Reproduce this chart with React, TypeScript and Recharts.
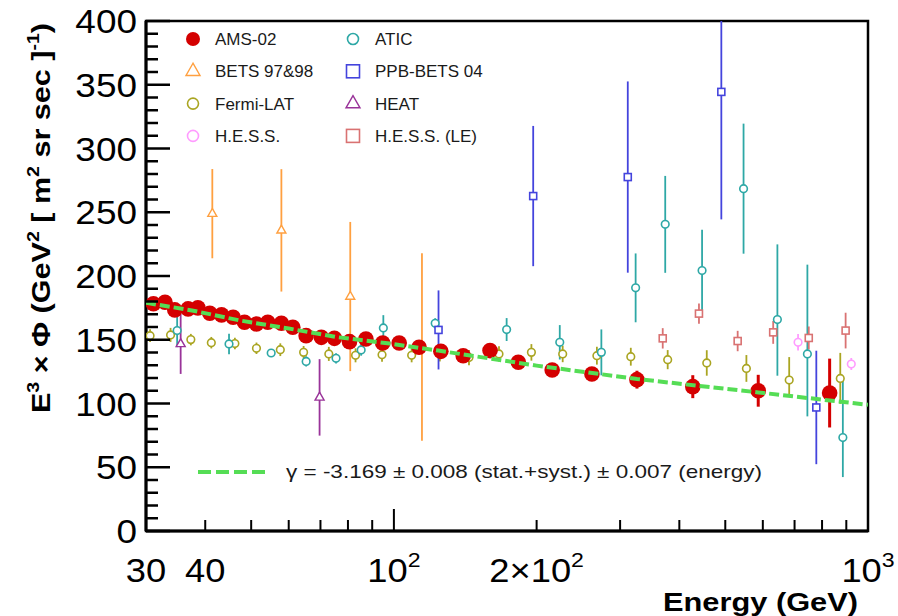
import React from 'react';
import { ComposedChart, Scatter, XAxis, YAxis, ErrorBar, ReferenceArea } from 'recharts';

const WIDTH = 898;
const HEIGHT = 616;
const FONT = '"Liberation Sans", Arial, Helvetica, sans-serif';

// rows: [energy (GeV), E^3 x flux, error]  (error may be [low, high])
type Row = [number, number, number | [number, number]];

const AMS02: Row[] = [
  [31.1, 178.2, 2], [32.9, 179.4, 2], [34.5, 173.4, 2], [36.8, 174.2, 2], [38.6, 175, 2],
  [40.9, 170.8, 2], [43.3, 169.5, 2], [45.8, 167.6, 2], [48.4, 163.7, 2], [51.3, 162.4, 2],
  [54.2, 163.7, 2], [57.9, 162.9, 2], [61.2, 159.8, 2], [65.3, 153.2, 2], [70.3, 151.9, 2],
  [74.9, 151.1, 2], [80.6, 148.5, 2.5], [87.3, 150.6, 2.5], [94.7, 147.5, 2.5], [102.6, 147.5, 2.5],
  [113, 144.1, 3], [125.6, 140.9, 3], [140, 137.5, 3], [159.5, 141.5, 3.5], [183, 132.3, 3.5],
  [215.7, 126.3, 4], [261.6, 123.1, 5.5], [325.6, 118.7, 7], [427, 113.2, 9], [586.8, 110, 12.5],
  [830, 108.2, 27],
];

const BETS_9798: Row[] = [
  [41.4, 248.9, 35], [57.9, 235.8, 48], [80.9, 183.9, 58.5], [114.6, 144.3, 73.6],
];

const FERMI_LAT: Row[] = [
  [30.6, 153.2, 5], [33.8, 153.8, 5.5], [37.3, 150.1, 4.5], [41.2, 147.7, 4.5], [46.2, 147, 4.5],
  [51.3, 143.3, 4.5], [57.6, 142.2, 5], [64.5, 140.1, 5], [72.9, 138.9, 5.5], [83, 137.8, 5.5],
  [94.4, 138.3, 5.5], [109, 137.8, 5.5], [125, 139, 6], [144, 136, 6], [166.6, 138.9, 6],
  [195, 140.1, 6.5], [227, 138.9, 6.5], [268, 137.5, 7], [316, 136.7, 7], [378, 134.4, 7.5],
  [457, 131.8, 10], [554, 127.5, 10.5], [682, 118.4, [13, 18]], [874, 119.7, 20],
];

const HESS: Row[] = [
  [712, 148, 6.5], [922, 131, 4.7],
];

const ATIC: Row[] = [
  [34.9, 157.2, 13], [44.9, 146.7, 8], [55.1, 139.6, 3], [65.3, 133, 4], [75.5, 135.4, 4],
  [85.3, 142, 4.5], [95, 159.3, 10], [122.2, 162.9, 4], [172.9, 158, 9], [223.8, 148, 13.5],
  [273.9, 140.1, 18], [323.5, 190.7, 27], [373.5, 240.5, 38], [446.7, 204.3, 32], [546.4, 268.5, 51],
  [644, 165.8, [44, 59]], [745, 138.9, [49, 70]], [885, 73.3, [31, 47]],
];

// the upper bar of the 490 GeV point runs off the top of the frame
const PPB_BETS: Row[] = [
  [124.2, 157.7, 31], [196.7, 262.7, 55], [311.4, 277.6, 75], [490.5, 344.4, [100, 55.6]], [778, 96.9, 44.5],
];

const HEAT: Row[] = [
  [35.5, 146.7, 23.5], [69.7, 104.8, 30],
];

const HESS_LE: Row[] = [
  [369, 151.1, 8], [440, 170.5, 8], [531, 149, 8], [631, 155.8, 9], [750, 151.4, 9], [897, 157.2, 14],
];

// power-law fit, gamma = -3.169
const FIT_ENERGY = [30, 37.5, 47.5, 60, 76, 98, 124, 200, 326, 587, 1000];
const FIT_VALUE = [179, 173, 165, 158.8, 152, 147, 141.5, 129.7, 119.2, 108.7, 99];

const X_TICKS = [30, 40, 50, 60, 70, 80, 90, 100, 200, 300, 400, 500, 600, 700, 800, 900, 1000];
const X_TICK_LABELS: Record<number, [string, string?]> = {
  30: ['30'],
  40: ['40'],
  100: ['10', '2'],
  200: ['2×10', '2'],
  1000: ['10', '3'],
};
const Y_TICKS = Array.from({ length: 41 }, (_, i) => i * 10);

type Marker = 'dot' | 'circle' | 'triangle' | 'square';

const drawMarker = (kind: Marker, color: string, cx: number, cy: number, s: number) => {
  switch (kind) {
    case 'dot':
      return <circle cx={cx} cy={cy} r={s} fill={color} />;
    case 'circle':
      return <circle cx={cx} cy={cy} r={s} fill="#fff" stroke={color} strokeWidth={1.6} />;
    case 'square':
      return <rect x={cx - s} y={cy - s} width={2 * s} height={2 * s} fill="#fff" stroke={color} strokeWidth={1.6} />;
    default:
      return (
        <polygon
          points={`${cx},${cy - s * 1.15} ${cx - s},${cy + s * 0.6} ${cx + s},${cy + s * 0.6}`}
          fill="#fff"
          stroke={color}
          strokeWidth={1.4}
        />
      );
  }
};

interface SeriesDef {
  name: string;
  rows: Row[];
  color: string;
  marker: Marker;
  size: number;
  bar: number;
}

// drawing order: AMS-02 goes on top of the older measurements
const SERIES: SeriesDef[] = [
  { name: 'Fermi-LAT', rows: FERMI_LAT, color: '#aaa522', marker: 'circle', size: 3.8, bar: 1.8 },
  { name: 'ATIC', rows: ATIC, color: '#2ea8a6', marker: 'circle', size: 3.8, bar: 1.8 },
  { name: 'H.E.S.S.', rows: HESS, color: '#ff9cff', marker: 'circle', size: 3.8, bar: 1.8 },
  { name: 'H.E.S.S. (LE)', rows: HESS_LE, color: '#d97272', marker: 'square', size: 3.5, bar: 1.8 },
  { name: 'PPB-BETS 04', rows: PPB_BETS, color: '#4444dd', marker: 'square', size: 3.5, bar: 1.8 },
  { name: 'HEAT', rows: HEAT, color: '#993399', marker: 'triangle', size: 4.5, bar: 1.8 },
  { name: 'BETS 97&98', rows: BETS_9798, color: '#ffa040', marker: 'triangle', size: 4.5, bar: 1.8 },
  { name: 'AMS-02', rows: AMS02, color: '#d40000', marker: 'dot', size: 7.8, bar: 3 },
];

const FIT_COLOR = '#55dd55';

const LEGEND_COLUMNS = [
  ['AMS-02', 'BETS 97&98', 'Fermi-LAT', 'H.E.S.S.'],
  ['ATIC', 'PPB-BETS 04', 'HEAT', 'H.E.S.S. (LE)'],
];

// ROOT style: ticks point into the frame
const XTick = (props: any) => {
  const { x, y, payload } = props;
  const v = payload.value as number;
  const len = v === 100 || v === 1000 ? 22 : 11;
  const label = X_TICK_LABELS[v];
  return (
    <g>
      <line x1={x} x2={x} y1={y} y2={y - len} stroke="#000" strokeWidth={2} />
      {label && (
        <text
          transform={`translate(${x},${y + 51}) scale(1.1,1)`}
          textAnchor="middle"
          fontFamily={FONT}
          fontSize={33}
          fill="#000"
        >
          {label[0]}
          {label[1] && (
            <tspan dy={-15} fontSize={21}>
              {label[1]}
            </tspan>
          )}
        </text>
      )}
    </g>
  );
};

const YTick = (props: any) => {
  const { x, y, payload } = props;
  const v = payload.value as number;
  const major = v % 50 === 0;
  return (
    <g>
      <line x1={x} x2={x + (major ? 24 : 12)} y1={y} y2={y} stroke="#000" strokeWidth={2.5} />
      {major && (
        <text
          transform={`translate(${x - 9},${y + 12}) scale(1.12,1)`}
          textAnchor="end"
          fontFamily={FONT}
          fontSize={33}
          fill="#000"
        >
          {v}
        </text>
      )}
    </g>
  );
};

const toPoints = (rows: Row[]) => rows.map(([x, y, err]) => ({ x, y, err }));
const fitPoints = FIT_ENERGY.map((x, i) => ({ x, y: FIT_VALUE[i] }));

const seriesByName = (name: string) => SERIES.find(s => s.name === name)!;

const App: React.FC = () => {
  return (
    <div style={{ position: 'absolute', left: 0, top: 0, width: WIDTH, height: HEIGHT, background: '#fff' }}>
      <ComposedChart width={WIDTH} height={HEIGHT} margin={{ top: 21, right: 30, bottom: 84, left: 145 }}>
        <XAxis
          dataKey="x"
          type="number"
          scale="log"
          domain={[30, 1000]}
          allowDataOverflow
          ticks={X_TICKS}
          interval={0}
          height={1}
          tickSize={0}
          tickMargin={0}
          tickLine={false}
          tick={<XTick />}
          axisLine={{ stroke: '#000', strokeWidth: 3 }}
        />
        <YAxis
          dataKey="y"
          type="number"
          domain={[0, 400]}
          allowDataOverflow
          ticks={Y_TICKS}
          interval={0}
          width={1}
          tickSize={0}
          tickMargin={0}
          tickLine={false}
          tick={<YTick />}
          axisLine={{ stroke: '#000', strokeWidth: 3 }}
        />
        <ReferenceArea x1={30} x2={1000} y1={0} y2={400} fill="none" stroke="#000" strokeWidth={2.5} />

        {SERIES.map(s => (
          <Scatter
            key={s.name}
            name={s.name}
            data={toPoints(s.rows)}
            dataKey="y"
            isAnimationActive={false}
            shape={(p: any) => drawMarker(s.marker, s.color, p.cx, p.cy, s.size)}
          >
            <ErrorBar
              dataKey="err"
              direction="y"
              width={0}
              stroke={s.color}
              strokeWidth={s.bar}
              isAnimationActive={false}
            />
          </Scatter>
        ))}

        {/* fit curve, drawn as a joined scatter so it sits above the AMS-02 points */}
        <Scatter
          name="fit"
          data={fitPoints}
          dataKey="y"
          fill={FIT_COLOR}
          line={{ stroke: FIT_COLOR, strokeWidth: 4, strokeDasharray: '10 4' }}
          lineJointType="linear"
          shape={() => <g />}
          isAnimationActive={false}
        />
      </ComposedChart>

      <svg
        width={WIDTH}
        height={HEIGHT}
        style={{ position: 'absolute', left: 0, top: 0, pointerEvents: 'none' }}
        fontFamily={FONT}
      >
        {LEGEND_COLUMNS.map((col, ci) =>
          col.map((name, ri) => {
            const s = seriesByName(name);
            const mx = ci === 0 ? 193 : 353;
            const my = 39 + ri * 32.3;
            const legendSize = s.marker === 'dot' ? 7 : s.marker === 'circle' ? 5.5 : s.marker === 'square' ? 6.5 : 7;
            return (
              <g key={name}>
                {drawMarker(s.marker, s.color, mx, my, legendSize)}
                <text x={mx + 22} y={my + 6} fontSize={17} fill="#1a1a1a">
                  {name}
                </text>
              </g>
            );
          })
        )}

        <line x1={198} x2={265} y1={472} y2={472} stroke={FIT_COLOR} strokeWidth={4} strokeDasharray="13 5" />
        <text x={286} y={478} fontSize={19} fill="#1a1a1a" textLength={476} lengthAdjust="spacingAndGlyphs">
          γ = -3.169 ± 0.008 (stat.+syst.) ± 0.007 (energy)
        </text>

        <text x={663} y={611} fontSize={26} fontWeight="bold" fill="#000" textLength={195} lengthAdjust="spacingAndGlyphs">
          Energy (GeV)
        </text>

        <text
          transform="translate(50,413) rotate(-90)"
          x={0}
          y={0}
          fontSize={25}
          fontWeight="bold"
          fill="#000"
          textLength={390}
          lengthAdjust="spacingAndGlyphs"
        >
          E<tspan dy={-11} fontSize={16}>3</tspan>
          <tspan dy={11}> × Φ (GeV</tspan>
          <tspan dy={-11} fontSize={16}>2</tspan>
          <tspan dy={11}> [ m</tspan>
          <tspan dy={-11} fontSize={16}>2</tspan>
          <tspan dy={11}> sr sec ]</tspan>
          <tspan dy={-11} fontSize={16}>-1</tspan>
          <tspan dy={11}>)</tspan>
        </text>
      </svg>
    </div>
  );
};

export default App;
